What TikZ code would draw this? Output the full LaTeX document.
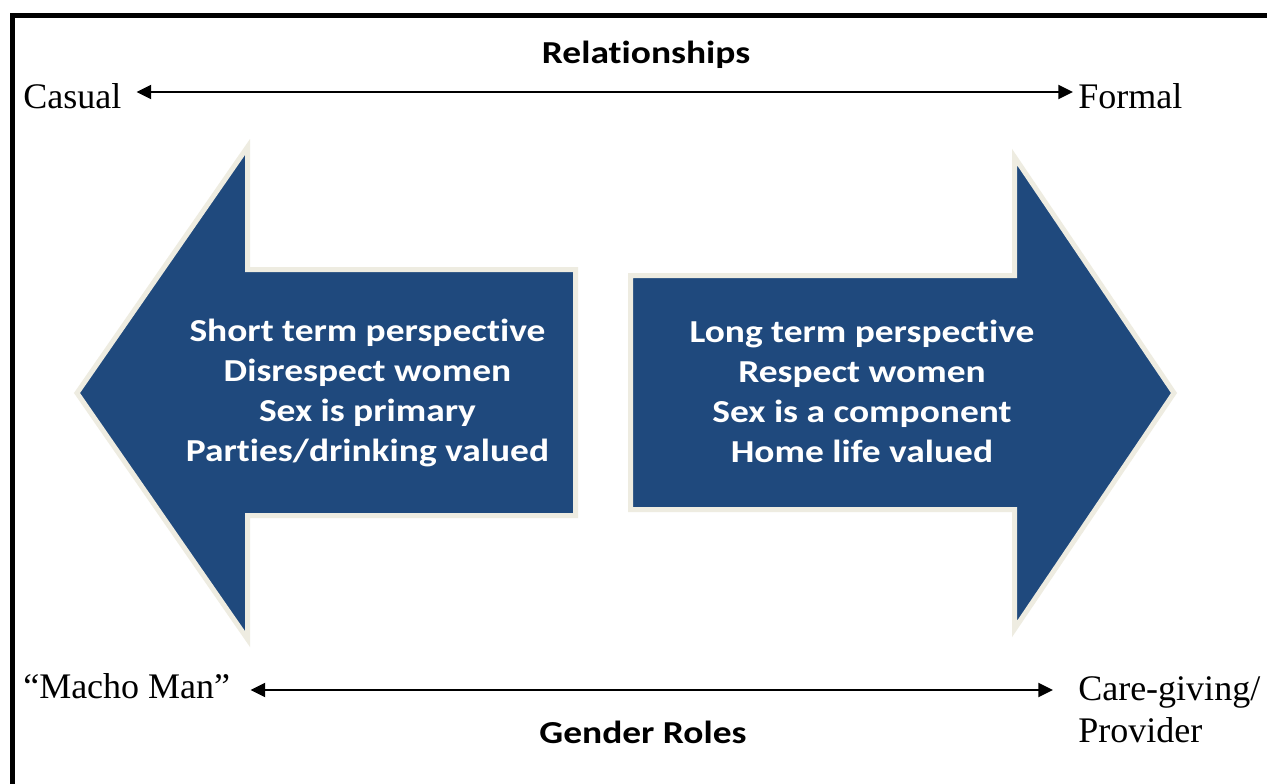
\documentclass[tikz,border=0pt]{standalone}
\usepackage{fontspec}
\newfontfamily\calibrifont[RawFeature={-liga;-clig;-calt}]{Carlito}
\newfontfamily\labelfont{Liberation Serif}
\usetikzlibrary{arrows.meta,calc}
\definecolor{arrowblue}{HTML}{1F497D}
\definecolor{arrowrim}{HTML}{EEECE1}
\newcommand{\widesans}[1]{\scalebox{1.17}[1]{#1}}
\begin{document}
\begin{tikzpicture}[x=0.75pt,y=-0.75pt,
  serif/.style={font=\labelfont\fontsize{27}{32}\selectfont, inner sep=0pt},
  heading/.style={font=\calibrifont\bfseries\fontsize{24}{30}\selectfont, inner sep=0pt},
  bigarrow/.style={fill=arrowblue, draw=arrowrim, line width=3.75pt, line join=miter},
  arrowtext/.style={text=white, font=\calibrifont\bfseries\fontsize{24}{30}\selectfont, inner sep=0pt},
  conn/.style={line width=1.5pt, {Triangle[length=11pt,width=10.5pt]}-{Triangle[length=11pt,width=10.5pt]}},
]
\useasboundingbox[fill=white] (0,0) rectangle (1267,783);

% frame (top and left edges)
\draw[line width=3.75pt, line join=miter] (1275,15.5) -- (12.5,15.5) -- (12.5,790);

% axis labels
\node[heading, anchor=base] (rel) at (646,63) {\widesans{Relationships}};
\node[serif, anchor=base west] (casual) at (23,108) {Casual};
\node[serif, anchor=base west] (formal) at (1078,108) {Formal};
\draw[conn] ($(casual.base east)+(15,-16)$) -- ($(formal.base west)+(-5,-16)$);

\node[heading, anchor=base] (gender) at (643,743) {\widesans{Gender Roles}};
\node[serif, anchor=base west] (macho) at (23,698) {“Macho Man”};
\node[serif, anchor=base west] (care) at (1078,700)
  {\begin{tabular}[t]{@{}l@{}}Care-giving/\\Provider\end{tabular}};
\draw[conn] ($(macho.base east)+(20,-8)$) -- ($(care.base west)+(-25,-10)$);

% left block arrow
\draw[bigarrow] (77,393) -- (247.5,147) -- (247.5,269.5) -- (575.5,269.5)
  -- (575.5,515.5) -- (247.5,515.5) -- (247.5,639) -- cycle;
\node[arrowtext] (lefttext) at (367.5,393.5)
  {\widesans{\begin{tabular}{@{}c@{}}Short term perspective\\Disrespect women\\Sex is primary\\Parties/drinking valued\end{tabular}}};

% right block arrow
\draw[bigarrow] (1174,393) -- (1014.5,157) -- (1014.5,275.5) -- (630.5,275.5)
  -- (630.5,509.5) -- (1014.5,509.5) -- (1014.5,629) -- cycle;
\node[arrowtext] (righttext) at (862,394.5)
  {\widesans{\begin{tabular}{@{}c@{}}Long term perspective\\Respect women\\Sex is a component\\Home life valued\end{tabular}}};
\end{tikzpicture}
\end{document}
